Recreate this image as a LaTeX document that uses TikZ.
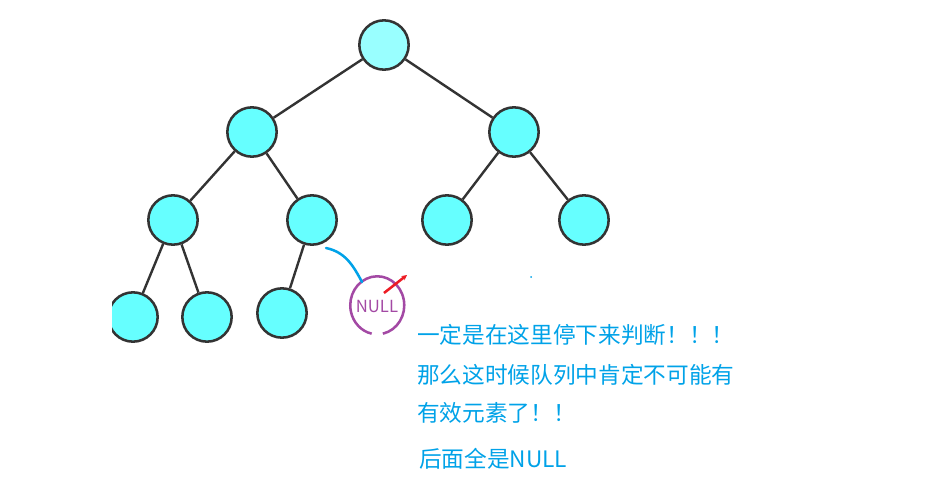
\documentclass[tikz,border=0pt]{standalone}
\usepackage{fontspec}
\newfontfamily\cjk{Noto Sans CJK SC}
\usetikzlibrary{arrows.meta}
\definecolor{ink}{HTML}{333333}
\definecolor{nodefill}{HTML}{66FFFF}
\definecolor{rootfill}{HTML}{99FFFF}
\definecolor{note}{HTML}{00A2E8}
\definecolor{ring}{HTML}{A349A4}
\definecolor{flagred}{HTML}{ED1C24}
\tikzset{
  treenode/.style={
    circle,
    draw=ink,
    line width=1.9pt,
    fill=nodefill,
    minimum size=37pt,
    inner sep=0pt
  },
  rootnode/.style={
    treenode,
    fill=rootfill
  },
  branch/.style={
    draw=ink,
    line width=1.8pt
  },
  nullnode/.style={
    circle,
    minimum size=42pt,
    inner sep=0pt,
    text=ring,
    font=\cjk\fontsize{12.5pt}{15pt}\selectfont
  },
  ringline/.style={
    draw=ring,
    line width=1.9pt
  },
  scribble/.style={
    draw=note,
    line width=1.9pt,
    line cap=round
  },
  flagarrow/.style={
    -{Stealth[length=4pt,width=4pt]},
    draw=flagred,
    line width=1.9pt
  },
  notetext/.style={
    anchor=west,
    inner sep=0pt,
    text=note,
    font=\cjk\fontsize{17pt}{20pt}\selectfont
  }
}

\begin{document}
\begin{tikzpicture}[x=0.75pt, y=-0.75pt]
  \useasboundingbox (0,0) rectangle (946,489);

  % Tree, cut at the left edge.
  \begin{scope}
    \clip (112,0) rectangle (946,489);
    \node[rootnode] (root) at (384,45) {};
    \node[treenode] (l) at (252,132) {};
    \node[treenode] (r) at (514,132) {};
    \node[treenode] (ll) at (173,220) {};
    \node[treenode] (lr) at (312,220) {};
    \node[treenode] (rl) at (447,220) {};
    \node[treenode] (rr) at (584,220) {};
    \node[treenode] (lll) at (133,317) {};
    \node[treenode] (llr) at (207,317) {};
    \node[treenode] (lrl) at (282,313) {};
    \draw[branch] (root) -- (l);
    \draw[branch] (root) -- (r);
    \draw[branch] (l) -- (ll);
    \draw[branch] (l) -- (lr);
    \draw[branch] (r) -- (rl);
    \draw[branch] (r) -- (rr);
    \draw[branch] (ll) -- (lll);
    \draw[branch] (ll) -- (llr);
    \draw[branch] (lr) -- (lrl);
  \end{scope}

  % The NULL slot.
  \node[nullnode] (null) at (377,306) {NULL};
  \draw[ringline] (null.-78) arc[start angle=-78, end angle=258,
    x radius=20.25pt, y radius=21.75pt];
  \coordinate (scribblestart) at (326,248);
  \draw[scribble] (scribblestart) to[out=-12, in=118] (null.122);
  \coordinate (flagtail) at (384,293);
  \coordinate (flaghead) at (407,275);
  \draw[flagarrow] (flagtail) -- (flaghead);
  \fill[note] (531,277) circle[radius=1];

  % Notes.
  \node[notetext] (note1) at (417,335) {一定是在这里停下来判断！！！};
  \node[notetext] (note2) at (417,375) {那么这时候队列中肯定不可能有};
  \node[notetext] (note3) at (417,413) {有效元素了！！};
  \node[notetext] (note4) at (419,459) {后面全是NULL};
\end{tikzpicture}
\end{document}
